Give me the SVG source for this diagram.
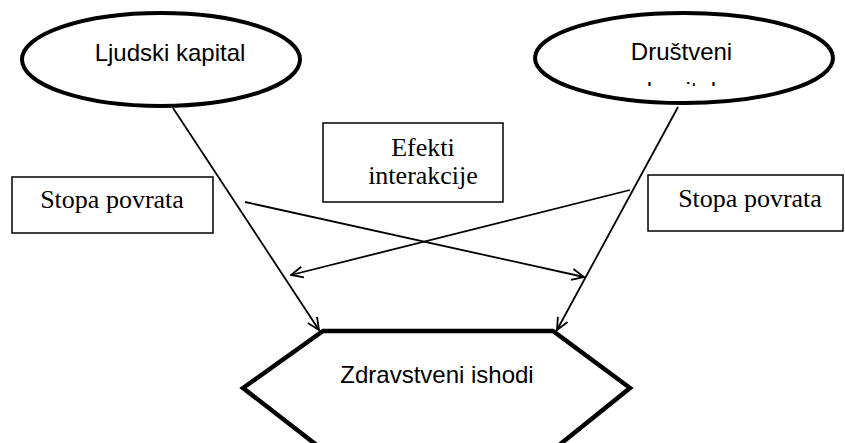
<svg xmlns="http://www.w3.org/2000/svg" width="845" height="443" viewBox="0 0 845 443">
  <style>
    .oval { fill: #fff; stroke: #000; stroke-width: 4; }
    .box { fill: #fff; stroke: #000; stroke-width: 1.5; }
    .hex { fill: #fff; stroke: #000; stroke-width: 4.5; stroke-linejoin: miter; }
    .sans { font-family: "Liberation Sans", Arial, sans-serif; font-size: 24px; fill: #000; text-anchor: middle; }
    .serif { font-family: "Liberation Serif", "Times New Roman", serif; font-size: 26px; fill: #000; text-anchor: middle; }
    .link { fill: none; stroke: #000; stroke-width: 1.8; marker-end: url(#open); }
  </style>
  <defs>
    <marker id="open" viewBox="0 0 14 14" refX="13" refY="7" markerWidth="14" markerHeight="14" markerUnits="userSpaceOnUse" orient="auto">
      <path d="M1,1.5 L13,7 L1,12.5" fill="none" stroke="#000" stroke-width="1.8"/>
    </marker>
    <clipPath id="oval2clip">
      <rect x="535" y="0" width="300" height="86"/>
    </clipPath>
  </defs>
  <rect width="845" height="443" fill="#fff"/>

  <g id="ljudski-kapital">
    <ellipse class="oval" cx="161" cy="59.5" rx="139" ry="46.5"/>
    <text class="sans" x="170" y="61">Ljudski kapital</text>
  </g>

  <g id="drustveni-kapital">
    <ellipse class="oval" cx="684" cy="58" rx="149" ry="45"/>
    <text class="sans" x="681.5" y="60">Društveni</text>
    <text class="sans" x="681.5" y="98.5" clip-path="url(#oval2clip)">kapital</text>
  </g>

  <g id="efekti-interakcije">
    <rect class="box" x="323" y="123" width="180" height="79"/>
    <text class="serif" x="423" y="156">Efekti</text>
    <text class="serif" x="423" y="184">interakcije</text>
  </g>

  <g id="stopa-povrata-lijevo">
    <rect class="box" x="12" y="177" width="201" height="56"/>
    <text class="serif" x="112" y="208">Stopa povrata</text>
  </g>

  <g id="stopa-povrata-desno">
    <rect class="box" x="648" y="175" width="195" height="56"/>
    <text class="serif" x="750" y="207">Stopa povrata</text>
  </g>

  <g id="zdravstveni-ishodi">
    <polygon class="hex" points="323,331 553,331 630,388 553,450 323,450 243,388"/>
    <text class="sans" x="437" y="383">Zdravstveni ishodi</text>
  </g>

  <g id="connectors">
    <line class="link" x1="173" y1="108" x2="319" y2="330"/>
    <line class="link" x1="678" y1="107" x2="557" y2="330"/>
    <line class="link" x1="245" y1="202" x2="584" y2="277"/>
    <line class="link" x1="630" y1="190" x2="291" y2="275"/>
  </g>
</svg>
